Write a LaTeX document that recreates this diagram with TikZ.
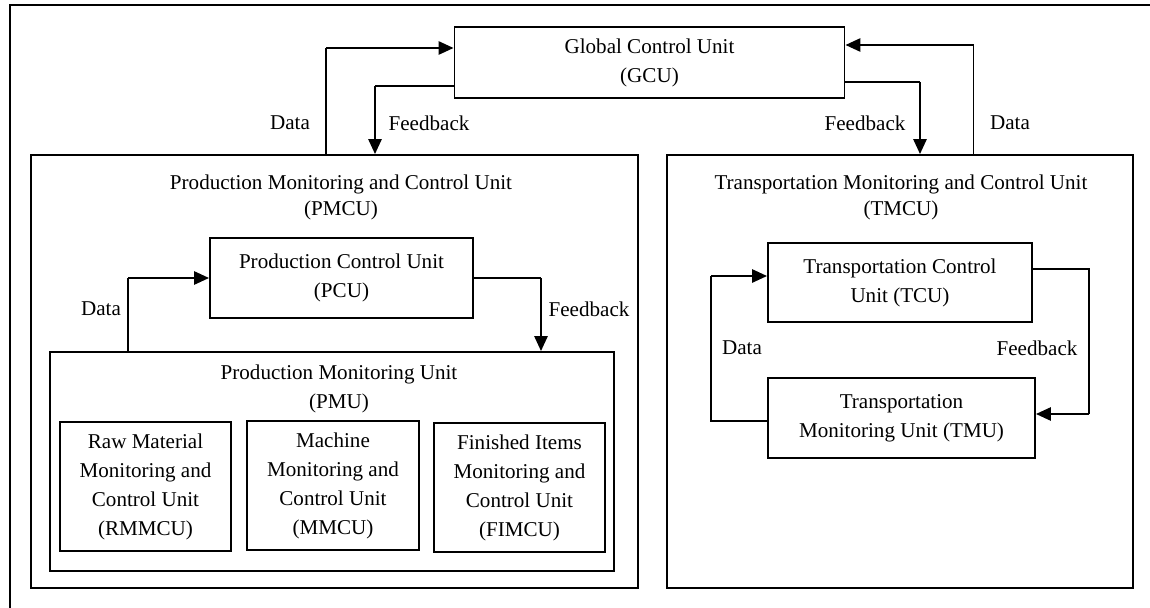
\documentclass[tikz,border=0pt]{standalone}
\usepackage{fontspec}
\setmainfont{Liberation Serif}
\usetikzlibrary{arrows.meta,positioning}

\tikzstyle{blk}   = [draw=black, line width=1pt, inner sep=0pt, align=center]
\tikzstyle{frame} = [draw=black, line width=1.1pt]
\tikzstyle{wire}  = [draw=black, line width=0.9pt]
\tikzstyle{arr}   = [draw=black, line width=1.5pt, -{Triangle[length=0.3cm,width=0.26cm]}]
\tikzstyle{lbl}   = [inner sep=0pt]
\tikzstyle{ttl}   = [inner sep=0pt, align=center]
\tikzset{sz/.style 2 args={minimum width=#1*0.02cm, minimum height=#2*0.02cm}}

\begin{document}
\begin{tikzpicture}[x=0.02cm, y=-0.02cm, every node/.style={font=\fontsize{12}{16.5}\selectfont}]
  \useasboundingbox (0,0) rectangle (1150,608);
  \draw[frame] (10,5) rectangle (1170,630);

  % global unit
  \node[blk, sz={390}{71}] (gcu) at (649.5,62.5) {Global Control Unit\\(GCU)};

  % the two big units
  \node[blk, sz={607}{433}] (pmcu) at (334.5,371.5) {};
  \node[ttl] (pmcut) at (341,197.5) {Production Monitoring and Control Unit\\[-2pt](PMCU)};
  \node[blk, sz={466}{433}] (tmcu) at (900,371.5) {};
  \node[ttl] (tmcut) at (901,197.5) {Transportation Monitoring and Control Unit\\[-2pt](TMCU)};

  % production side
  \node[blk, sz={263}{80}] (pcu) at (341.5,278) {Production Control Unit\\(PCU)};
  \node[blk, sz={564}{219}] (pmu) at (332,461.5) {};
  \node[ttl] (pmut) at (339,388.5) {Production Monitoring Unit\\(PMU)};
  \node[blk, sz={171}{129}] (rmmcu) at (145.5,486.5) {Raw Material\\Monitoring and\\Control Unit\\(RMMCU)};
  \node[blk, sz={172}{129}] (mmcu)  at (333,485.5)   {Machine\\Monitoring and\\Control Unit\\(MMCU)};
  \node[blk, sz={171}{129}] (fimcu) at (519.5,487.5) {Finished Items\\Monitoring and\\Control Unit\\(FIMCU)};

  % transportation side
  \node[blk, sz={264}{79}] (tcu) at (900,282.5) {Transportation Control\\Unit (TCU)};
  \node[blk, sz={267}{80}] (tmu) at (901.5,418) {Transportation\\Monitoring Unit (TMU)};

  % bends of the connectors
  \coordinate (d1) at (326,48);
  \coordinate (f1) at (375,86);
  \coordinate (f2) at (920,82);
  \coordinate (d2) at (973.6,45);
  \coordinate (d3) at (128,278);
  \coordinate (f3) at (541,278);
  \coordinate (d4) at (711,276);
  \coordinate (d4b) at (711,421);
  \coordinate (f4) at (1089,269);
  \coordinate (f4b) at (1089,414);

  \draw[wire] (d1 |- pmcu.north) -- (d1);
  \draw[arr]  (d1) -- (d1 -| gcu.west);
  \draw[wire] (f1 -| gcu.west) -- (f1);
  \draw[arr]  (f1) -- (f1 |- pmcu.north);
  \draw[wire] (f2 -| gcu.east) -- (f2);
  \draw[arr]  (f2) -- (f2 |- tmcu.north);
  \draw[wire] (d2 |- tmcu.north) -- (d2);
  \draw[arr]  (d2) -- (d2 -| gcu.east);

  \draw[wire] (d3 |- pmu.north) -- (d3);
  \draw[arr]  (d3) -- (pcu.west);
  \draw[wire] (pcu.east) -- (f3);
  \draw[arr]  (f3) -- (f3 |- pmu.north);

  \draw[wire] (d4b -| tmu.west) -- (d4b) -- (d4);
  \draw[arr]  (d4) -- (d4 -| tcu.west);
  \draw[wire] (f4 -| tcu.east) -- (f4) -- (f4b);
  \draw[arr]  (f4b) -- (f4b -| tmu.east);

  % labels
  \node[lbl] (ld1) at (290,123) {Data};
  \node[lbl] (lf1) at (429,123) {Feedback};
  \node[lbl] (lf2) at (865,123) {Feedback};
  \node[lbl] (ld2) at (1010,123) {Data};
  \node[lbl] (ld3) at (101,309) {Data};
  \node[lbl] (lf3) at (589,309) {Feedback};
  \node[lbl] (ld4) at (742,348) {Data};
  \node[lbl] (lf4) at (1037,348) {Feedback};
\end{tikzpicture}
\end{document}
